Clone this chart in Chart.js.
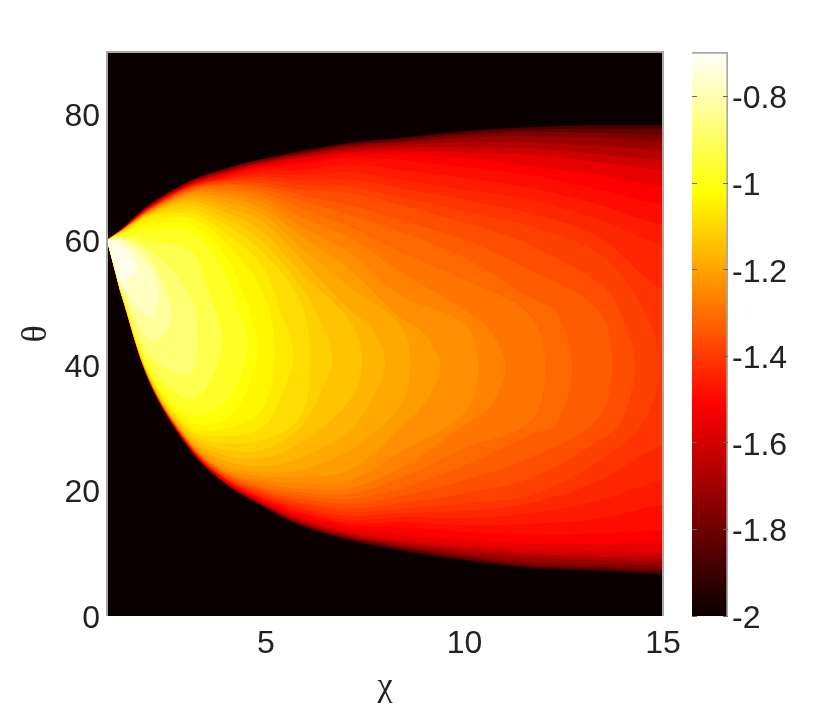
<!DOCTYPE html>
<html>
<head>
<meta charset="utf-8">
<script src="https://cdn.jsdelivr.net/npm/chart.js@4/dist/chart.umd.js"></script>
<style>
  html, body { margin: 0; background: #fff; }
  #wrap { position: relative; width: 830px; height: 707px; }
  canvas { position: absolute; left: 0; top: 0; filter: blur(0.7px); }
</style>
</head>
<body>
<div id="wrap">
  <canvas id="mapChart" width="830" height="707"></canvas>
  <canvas id="barChart" width="830" height="707"></canvas>
</div>
<script>
// contour levels of the field
const levels = [-1.9, -1.85, -1.8, -1.75, -1.7, -1.65, -1.6, -1.55, -1.525, -1.5, -1.475, -1.45, -1.425, -1.4, -1.375,
  -1.35, -1.325, -1.3, -1.275, -1.25, -1.225, -1.2, -1.175, -1.15, -1.125, -1.1, -1.075, -1.05, -1.025,
  -1, -0.95, -0.9, -0.85, -0.8, -0.75];

const chiStations = [1.33, 2.08, 3.09, 3.92, 4.9, 5.86, 7.12, 8.38, 10.02, 11.65, 13.42, 15];

// theta of each contour along its upper side, at chiStations
const topTheta = [
  [61.6, 65.7, 69.4, 71.3, 72.9, 74.2, 75.5, 76.3, 77.4, 78.0, 78.3, 78.3],
  [61.6, 65.7, 69.4, 71.3, 72.9, 74.0, 75.4, 76.1, 77.1, 77.6, 77.7, 77.6],
  [61.6, 65.6, 69.3, 71.2, 72.8, 73.9, 75.2, 75.8, 76.8, 77.2, 77.1, 76.8],
  [61.6, 65.6, 69.3, 71.0, 72.6, 73.7, 75.0, 75.5, 76.3, 76.6, 76.3, 75.6],
  [61.6, 65.4, 69.1, 70.8, 72.4, 73.6, 74.7, 75.2, 75.6, 75.6, 75.0, 74.4],
  [61.4, 65.4, 68.9, 70.7, 72.3, 73.2, 74.4, 74.8, 74.8, 74.7, 73.7, 72.8],
  [61.4, 65.3, 68.9, 70.5, 72.0, 73.1, 74.0, 74.4, 74.0, 73.6, 72.4, 71.2],
  [61.4, 65.3, 68.8, 70.4, 71.8, 72.6, 73.6, 73.6, 73.1, 71.8, 70.4, 68.5],
  [61.4, 65.2, 68.7, 70.3, 71.6, 72.3, 73.3, 73.2, 72.3, 71.1, 69.2, 67.0],
  [61.4, 65.1, 68.6, 70.1, 71.5, 72.1, 73.1, 72.8, 71.6, 70.4, 68.0, 65.6],
  [61.4, 65.1, 68.6, 69.9, 71.0, 71.2, 72.1, 71.2, 69.9, 68.3, 65.6, 62.4],
  [61.4, 65.1, 68.5, 69.7, 70.5, 70.4, 70.8, 69.6, 68.0, 66.4, 63.2, 59.2],
  [61.4, 64.9, 68.5, 69.6, 70.1, 69.6, 69.6, 68.3, 66.4, 64.3, 60.3, 52.0],
  [61.4, 64.9, 68.3, 69.4, 69.6, 68.8, 68.5, 66.9, 64.6, 62.2, 57.6],
  [61.4, 64.9, 68.3, 69.3, 69.1, 68.0, 67.5, 65.6, 62.7, 59.2, 52.8],
  [61.4, 64.9, 68.1, 68.9, 68.6, 67.2, 65.6, 63.2, 60.0, 55.2],
  [61.3, 64.8, 68.0, 68.8, 68.1, 66.4, 64.0, 61.4, 57.1, 50.9],
  [61.3, 64.8, 67.8, 68.5, 67.5, 65.1, 62.1, 58.1, 53.6, 48.0],
  [61.3, 64.6, 67.7, 68.0, 66.9, 63.7, 60.3, 54.9, 48.8],
  [61.3, 64.6, 67.5, 67.5, 66.1, 62.2, 57.9, 51.2, 46.5],
  [61.3, 64.5, 67.2, 66.9, 65.1, 60.8, 55.2, 47.6],
  [61.3, 64.5, 66.9, 66.2, 64.1, 58.9, 52.5, 46.5],
  [61.3, 64.3, 66.5, 65.4, 62.9, 57.1, 48.8],
  [61.1, 64.3, 66.1, 64.6, 61.4, 55.0, 47.0],
  [61.1, 64.1, 65.6, 63.7, 59.8, 52.8],
  [61.1, 64.0, 64.9, 62.7, 58.1, 50.4],
  [61.1, 63.7, 64.3, 61.4, 56.0],
  [61.1, 63.0, 63.5, 60.0, 52.0],
  [61.0, 62.4, 62.5, 58.1],
  [61.0, 61.6, 61.3, 55.2],
  [60.6, 59.8, 58.4],
  [60.5, 58.4, 51.2],
  [60.3, 57.1],
  [60.0, 55.8],
  [59.4]
];

// theta of each contour along its lower side, at chiStations
const bottomTheta = [
  [51.7, 37.2, 26.5, 21.4, 17.6, 14.5, 12.1, 10.5, 8.9, 7.7, 7.2, 6.7],
  [51.7, 37.2, 26.5, 21.4, 17.6, 14.6, 12.2, 10.7, 9.1, 7.9, 7.5, 7.1],
  [51.7, 37.2, 26.6, 21.4, 17.7, 14.7, 12.4, 11.0, 9.4, 8.1, 7.8, 7.5],
  [51.7, 37.2, 26.6, 21.5, 17.7, 14.8, 12.6, 11.2, 9.7, 8.6, 8.3, 8.0],
  [51.7, 37.2, 26.6, 21.5, 17.9, 15.0, 12.8, 11.5, 10.2, 9.3, 8.9, 8.6],
  [51.9, 37.2, 26.8, 21.7, 18.0, 15.3, 13.1, 11.8, 10.7, 9.9, 9.4, 9.3],
  [51.9, 37.3, 26.8, 21.7, 18.2, 15.5, 13.2, 12.1, 11.2, 10.7, 10.4, 10.1],
  [51.9, 37.3, 27.0, 21.9, 18.4, 15.8, 13.9, 13.1, 12.1, 11.6, 11.5, 11.6],
  [51.9, 37.3, 27.0, 21.9, 18.5, 16.0, 14.2, 13.6, 12.7, 12.2, 12.3, 12.6],
  [51.9, 37.3, 27.0, 22.0, 18.7, 16.3, 14.5, 14.2, 13.4, 12.9, 13.2, 13.7],
  [51.9, 37.3, 27.1, 22.2, 18.8, 16.6, 14.8, 15.0, 14.5, 14.7, 15.6, 17.7],
  [51.9, 37.3, 27.1, 22.2, 19.0, 17.1, 15.3, 15.8, 15.6, 16.4, 18.5, 21.7],
  [51.9, 37.5, 27.1, 22.3, 19.3, 17.4, 16.0, 16.4, 16.8, 18.0, 21.7, 27.3],
  [51.9, 37.5, 27.1, 22.3, 19.5, 17.9, 16.6, 17.1, 18.0, 19.3, 24.9],
  [51.9, 37.5, 27.3, 22.5, 19.8, 18.2, 17.2, 18.0, 19.6, 22.0, 28.1],
  [51.9, 37.5, 27.3, 22.7, 20.1, 18.7, 17.9, 19.1, 21.7, 25.2],
  [51.9, 37.5, 27.4, 22.8, 20.4, 19.3, 18.7, 20.3, 24.1, 28.9],
  [52.0, 37.5, 27.4, 23.0, 20.7, 19.8, 19.5, 22.0, 26.8, 31.0],
  [52.0, 37.5, 27.6, 23.1, 21.2, 20.3, 20.4, 23.6, 30.5],
  [52.0, 37.5, 27.6, 23.3, 21.7, 21.2, 21.7, 26.2, 32.5],
  [52.0, 37.7, 27.8, 23.6, 22.3, 22.2, 23.3, 30.0],
  [52.0, 37.7, 27.9, 24.1, 23.0, 23.3, 26.5, 33.5],
  [52.0, 37.7, 28.1, 24.9, 23.9, 25.2, 29.7],
  [52.0, 37.7, 28.4, 25.7, 25.2, 27.6, 34.5],
  [52.0, 37.8, 28.7, 26.6, 26.5, 30.0],
  [52.0, 38.0, 29.2, 27.6, 28.1, 31.6],
  [52.0, 38.1, 29.7, 28.7, 30.0],
  [52.0, 38.5, 30.3, 29.8, 32.9],
  [52.2, 38.6, 31.1, 31.1],
  [52.2, 38.9, 32.1, 33.7],
  [52.3, 39.9, 34.5],
  [52.3, 41.6, 38.5],
  [52.5, 44.0],
  [52.7, 47.6],
  [52.8]
];

// rounded end of each contour, top to bottom (empty: it runs off the plot)
const noseChi = [[], [], [], [], [], [], [], [], [], [], [], [], [],
  [14.52, 14.9, 14.52],
  [13.92, 14.3, 13.92],
  [13.34, 13.72, 13.34],
  [12.33, 12.71, 12.33],
  [12.03],
  [10.65, 11.03, 10.65],
  [10.35],
  [9.0, 9.39, 9.0],
  [8.63],
  [7.65, 8.0, 7.65],
  [7.42],
  [6.3, 6.67, 6.3],
  [6.11],
  [5.35, 5.69, 5.35],
  [5.23],
  [4.45, 4.8, 4.45],
  [4.25, 4.55, 4.25],
  [3.55, 3.9, 3.55],
  [3.27],
  [2.64],
  [2.28],
  [1.76]
];
const noseTheta = [[], [], [], [], [], [], [], [], [], [], [], [], [],
  [48.8, 40.0, 31.2],
  [48.4, 39.6, 30.8],
  [48.9, 40.1, 31.3],
  [48.4, 39.6, 30.8],
  [39.6],
  [45.5, 39.6, 33.5],
  [39.6],
  [45.0, 39.6, 34.0],
  [40.1],
  [46.0, 40.4, 34.5],
  [40.8],
  [48.0, 41.2, 34.5],
  [41.2],
  [49.0, 41.6, 34.5],
  [42.1],
  [51.0, 42.8, 35.0],
  [50.0, 43.2, 36.5],
  [52.0, 44.0, 37.0],
  [44.8],
  [47.2],
  [51.7],
  [55.5]
];

const cusp = { x: 1, y: 60 };

const xTicks = [5, 10, 15];
const yTicks = [0, 20, 40, 60, 80];
const barTicks = [-2, -1.8, -1.6, -1.4, -1.2, -1, -0.8];
const valueMin = -2;
const valueMax = -0.697;

const tickFont = { family: '"Liberation Sans"', size: 32 };
const textColor = '#222';
const frameColor = '#a8a8a8';

// hot colormap
function hot(v) {
  const t = (v - valueMin) / (valueMax - valueMin);
  const r = Math.min(1, 0.04 + t / 0.375);
  const g = Math.max(0, Math.min(1, (t - 0.375) / 0.375));
  const b = Math.max(0, Math.min(1, (t - 0.75) / 0.25));
  return `rgb(${Math.round(r * 255)},${Math.round(g * 255)},${Math.round(b * 255)})`;
}

function contourPoints(i) {
  const pts = [cusp];
  const top = topTheta[i];
  const bottom = bottomTheta[i];
  top.forEach((t, k) => pts.push({ x: chiStations[k], y: t }));
  if (noseChi[i].length) {
    noseChi[i].forEach((c, k) => pts.push({ x: c, y: noseTheta[i][k] }));
  } else {
    // run past the clipped right edge so the curve stays clean there
    pts.push({ x: 16, y: top[top.length - 1] });
    pts.push({ x: 16, y: bottom[bottom.length - 1] });
  }
  for (let k = bottom.length - 1; k >= 0; k--) {
    pts.push({ x: chiStations[k], y: bottom[k] });
  }
  return pts;
}

// first dataset ends up on top, so highest contour goes first
const frame = [{ x: 1, y: 0 }, { x: 1, y: 90 }, { x: 15, y: 90 }, { x: 15, y: 0 }];
const datasets = [{
  data: frame,
  showLine: true, pointRadius: 0, fill: false, clip: false,
  borderColor: frameColor, borderWidth: 2
}];
for (let i = levels.length - 1; i >= 0; i--) {
  const next = i < levels.length - 1 ? levels[i + 1] : levels[i] + 0.05;
  datasets.push({
    data: contourPoints(i),
    showLine: true, pointRadius: 0, borderWidth: 0, tension: 0.35,
    capBezierPoints: false,
    fill: 'shape', backgroundColor: hot((levels[i] + next) / 2)
  });
}
datasets.push({
  data: frame,
  showLine: true, pointRadius: 0, borderWidth: 0,
  fill: 'shape', backgroundColor: hot(valueMin)
});

new Chart(document.getElementById('mapChart'), {
  type: 'scatter',
  data: { datasets: datasets },
  options: {
    responsive: false,
    animation: false,
    events: [],
    layout: { padding: { left: 0, top: 52, right: 167, bottom: 0 } },
    plugins: { legend: { display: false }, tooltip: { enabled: false } },
    scales: {
      x: {
        type: 'linear', min: 1, max: 15,
        afterBuildTicks: s => { s.ticks = xTicks.map(v => ({ value: v })); },
        afterFit: s => { s.height = 91; },
        grid: { display: false, drawTicks: false },
        border: { display: false },
        ticks: { font: tickFont, color: textColor, padding: 9, maxRotation: 0 },
        title: { display: true, text: 'χ', font: { family: '"Liberation Serif"', size: 34 }, color: textColor, padding: { top: 0, bottom: 0 } }
      },
      y: {
        type: 'linear', min: 0, max: 90,
        afterBuildTicks: s => { s.ticks = yTicks.map(v => ({ value: v })); },
        afterFit: s => { s.width = 107; },
        grid: { display: false, drawTicks: false },
        border: { display: false },
        ticks: { font: tickFont, color: textColor, padding: 7, labelOffset: 3 },
        title: { display: true, text: 'θ', font: { family: '"Liberation Serif"', size: 36 }, color: textColor, padding: { top: 15, bottom: 0 } }
      }
    }
  }
});

const barStops = [[0, hot(valueMin)], [0.375, '#ff0000'], [0.75, '#ffff00'], [1, '#ffffff']];

new Chart(document.getElementById('barChart'), {
  type: 'bar',
  data: {
    labels: [''],
    datasets: [{
      data: [[valueMin, valueMax]],
      barPercentage: 1,
      categoryPercentage: 1,
      borderColor: frameColor,
      borderWidth: { top: 2, right: 2, left: 0, bottom: 0 },
      borderSkipped: false,
      backgroundColor: ctx => {
        const area = ctx.chart.chartArea;
        if (!area) return '#000';
        const g = ctx.chart.ctx.createLinearGradient(0, area.bottom, 0, area.top);
        barStops.forEach(s => g.addColorStop(s[0], s[1]));
        return g;
      }
    }]
  },
  options: {
    responsive: false,
    animation: false,
    events: [],
    layout: { padding: { left: 692, top: 52, right: 0, bottom: 91 } },
    plugins: { legend: { display: false }, tooltip: { enabled: false } },
    scales: {
      x: {
        position: 'top',
        afterFit: s => { s.height = 0; },
        grid: { display: false, drawTicks: false },
        ticks: { display: false },
        border: { display: false }
      },
      y: {
        position: 'right',
        min: valueMin, max: valueMax,
        afterBuildTicks: s => { s.ticks = barTicks.map(v => ({ value: v })); },
        afterFit: s => { s.width = 830 - 728; },
        grid: { drawTicks: false, z: 1, color: '#666', lineWidth: 1 },
        border: { display: false, dash: [5, 26] },
        ticks: { font: tickFont, color: textColor, padding: 4, labelOffset: 3, callback: v => String(v) }
      }
    }
  }
});
</script>
</body>
</html>
